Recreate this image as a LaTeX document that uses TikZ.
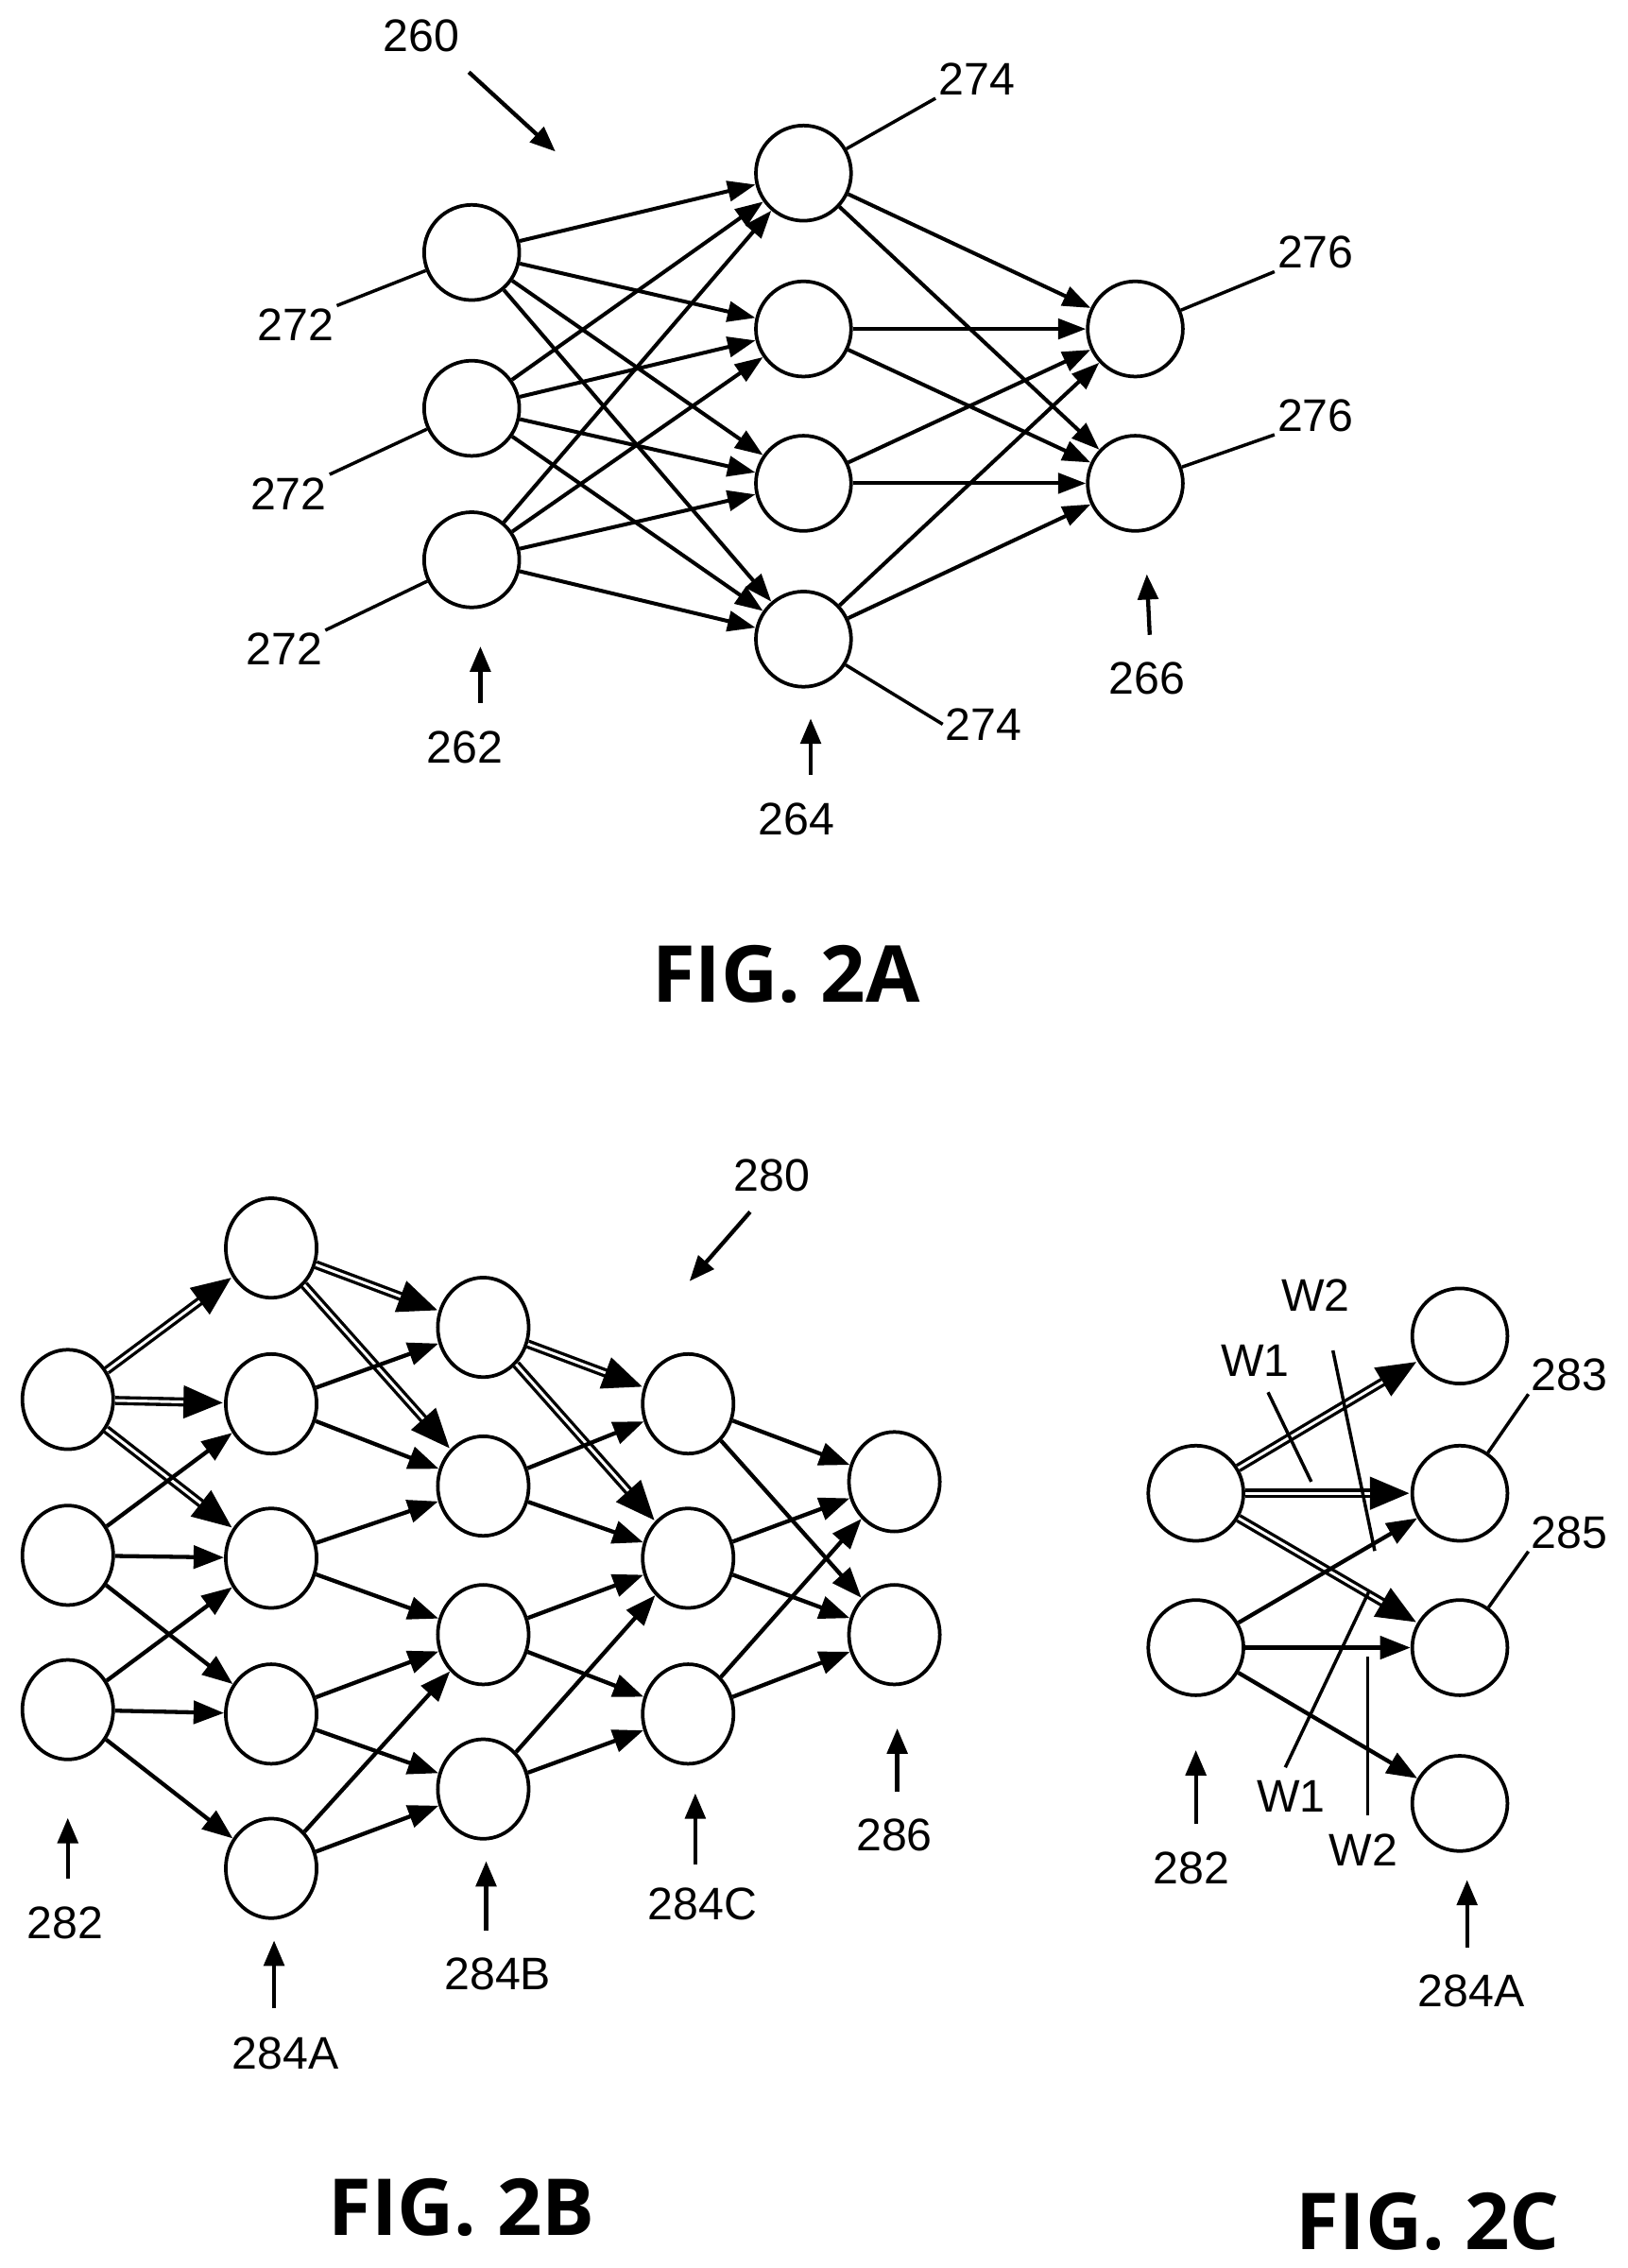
\documentclass[tikz,border=0pt]{standalone}
\usepackage{fontspec}
\setmainfont{Liberation Sans}
\newfontfamily\figfont{Open Sans}
\usetikzlibrary{arrows.meta,shapes.geometric}

\begin{document}
\begin{tikzpicture}[x=0.02cm, y=-0.02cm]
\tikzstyle{neuron} = [circle, draw=black, line width=1.4pt, minimum size=1.32cm, inner sep=0pt]
\tikzstyle{neuronB} = [ellipse, draw=black, line width=1.4pt, minimum width=1.26cm, minimum height=1.38cm, inner sep=0pt]
\tikzstyle{ref} = [font=\fontsize{18}{20}\selectfont, inner sep=1pt]
\tikzstyle{fig} = [font=\figfont\fontsize{31}{36}\selectfont\bfseries]
\tikzstyle{lead} = [line width=1.3pt]
\tikzstyle{ptr} = [line width=1.6pt, -{Triangle[length=10pt,width=8pt]}]
\tikzstyle{edgeA} = [line width=1.5pt, -{Triangle[length=11pt,width=8pt]}]
\tikzstyle{edgeB} = [line width=1.6pt, -{Triangle[length=12pt,width=9pt]}]
\tikzstyle{dbl} = [line width=3.6pt, -{Triangle[length=16pt,width=12pt]}, postaction={draw=white, line width=1.1pt, -, shorten >=16pt}]
\useasboundingbox (0,0) rectangle (1128,1572);
% FIG. 2A
\node (I1) at (327,175) [neuron] {};
\node (I2) at (327,283) [neuron] {};
\node (I3) at (327,388) [neuron] {};
\node (H1) at (557,120) [neuron] {};
\node (H2) at (557,228) [neuron] {};
\node (H3) at (557,335) [neuron] {};
\node (H4) at (557,443) [neuron] {};
\node (O1) at (787,228) [neuron] {};
\node (O2) at (787,335) [neuron] {};
\draw[edgeA] (I1) -- (H1);
\draw[edgeA] (I1) -- (H2);
\draw[edgeA] (I1) -- (H3);
\draw[edgeA] (I1) -- (H4);
\draw[edgeA] (I2) -- (H1);
\draw[edgeA] (I2) -- (H2);
\draw[edgeA] (I2) -- (H3);
\draw[edgeA] (I2) -- (H4);
\draw[edgeA] (I3) -- (H1);
\draw[edgeA] (I3) -- (H2);
\draw[edgeA] (I3) -- (H3);
\draw[edgeA] (I3) -- (H4);
\draw[edgeA] (H1) -- (O1);
\draw[edgeA] (H1) -- (O2);
\draw[edgeA] (H2) -- (O1);
\draw[edgeA] (H2) -- (O2);
\draw[edgeA] (H3) -- (O1);
\draw[edgeA] (H3) -- (O2);
\draw[edgeA] (H4) -- (O1);
\draw[edgeA] (H4) -- (O2);
\node (L272a) at (205,225) [ref] {272};
\node (L272b) at (200,342) [ref] {272};
\node (L272c) at (197,450) [ref] {272};
\node (L274a) at (677,55) [ref] {274};
\node (L274b) at (682,502) [ref] {274};
\node (L276a) at (912,175) [ref] {276};
\node (L276b) at (912,288) [ref] {276};
\node (L260) at (292,25) [ref] {260};
\node (L262) at (322,518) [ref] {262};
\node (L264) at (552,568) [ref] {264};
\node (L266) at (795,470) [ref] {266};
\draw[lead] (L272a.north east) -- (I1);
\draw[lead] (L272b.north east) -- (I2);
\draw[lead] (L272c.north east) -- (I3);
\draw[lead] (L274a.south west) -- (H1);
\draw[lead] (L274b.west) -- (H4);
\draw[lead] (L276a.south west) -- (O1);
\draw[lead] (L276b.south west) -- (O2);
\draw[ptr] (325,50) -- (385,105);
\draw[ptr] (333,487) -- (333,448);
\draw[ptr] (562,537) -- (562,498);
\draw[ptr] (797,440) -- (795,398);
\node (F2A) at (545,675) [fig] {FIG. 2A};
% FIG. 2B
\node (P1) at (47,970) [neuronB] {};
\node (P2) at (47,1078) [neuronB] {};
\node (P3) at (47,1185) [neuronB] {};
\node (A1) at (188,865) [neuronB] {};
\node (A2) at (188,973) [neuronB] {};
\node (A3) at (188,1080) [neuronB] {};
\node (A4) at (188,1188) [neuronB] {};
\node (A5) at (188,1295) [neuronB] {};
\node (B1) at (335,920) [neuronB] {};
\node (B2) at (335,1030) [neuronB] {};
\node (B3) at (335,1133) [neuronB] {};
\node (B4) at (335,1240) [neuronB] {};
\node (C1) at (477,973) [neuronB] {};
\node (C2) at (477,1080) [neuronB] {};
\node (C3) at (477,1188) [neuronB] {};
\node (Q1) at (620,1027) [neuronB] {};
\node (Q2) at (620,1133) [neuronB] {};
\draw[dbl] (P1) -- (A1);
\draw[dbl] (P1) -- (A2);
\draw[dbl] (P1) -- (A3);
\draw[edgeB] (P2) -- (A2);
\draw[edgeB] (P2) -- (A3);
\draw[edgeB] (P2) -- (A4);
\draw[edgeB] (P3) -- (A3);
\draw[edgeB] (P3) -- (A4);
\draw[edgeB] (P3) -- (A5);
\draw[dbl] (A1) -- (B1);
\draw[dbl] (A1) -- (B2);
\draw[edgeB] (A2) -- (B1);
\draw[edgeB] (A2) -- (B2);
\draw[edgeB] (A3) -- (B2);
\draw[edgeB] (A3) -- (B3);
\draw[edgeB] (A4) -- (B3);
\draw[edgeB] (A4) -- (B4);
\draw[edgeB] (A5) -- (B3);
\draw[edgeB] (A5) -- (B4);
\draw[dbl] (B1) -- (C1);
\draw[dbl] (B1) -- (C2);
\draw[edgeB] (B2) -- (C1);
\draw[edgeB] (B2) -- (C2);
\draw[edgeB] (B3) -- (C2);
\draw[edgeB] (B3) -- (C3);
\draw[edgeB] (B4) -- (C2);
\draw[edgeB] (B4) -- (C3);
\draw[edgeB] (C1) -- (Q1);
\draw[edgeB] (C1) -- (Q2);
\draw[edgeB] (C2) -- (Q1);
\draw[edgeB] (C2) -- (Q2);
\draw[edgeB] (C3) -- (Q1);
\draw[edgeB] (C3) -- (Q2);
\node (L280) at (535,815) [ref] {280};
\node (L282b) at (45,1333) [ref] {282};
\node (L284A) at (198,1423) [ref] {284A};
\node (L284B) at (345,1368) [ref] {284B};
\node (L284C) at (487,1320) [ref] {284C};
\node (L286) at (620,1272) [ref] {286};
\draw[ptr] (520,840) -- (478,888);
\draw[ptr] (47,1302) -- (47,1260);
\draw[ptr] (190,1392) -- (190,1345);
\draw[ptr] (337,1338) -- (337,1290);
\draw[ptr] (482,1292) -- (482,1243);
\draw[ptr] (622,1242) -- (622,1198);
\node (F2B) at (320,1530) [fig] {FIG. 2B};
% FIG. 2C
\node (S1) at (829,1035) [neuron] {};
\node (S2) at (829,1142) [neuron] {};
\node (T1) at (1012,926) [neuron] {};
\node (T2) at (1012,1035) [neuron] {};
\node (T3) at (1012,1142) [neuron] {};
\node (T4) at (1012,1250) [neuron] {};
\draw[dbl] (S1) -- (T1);
\draw[dbl] (S1) -- (T2);
\draw[dbl] (S1) -- (T3);
\draw[edgeB] (S2) -- (T2);
\draw[edgeB] (S2) -- (T3);
\draw[edgeB] (S2) -- (T4);
\node (LW2a) at (912,898) [ref] {W2};
\node (LW1a) at (870,943) [ref] {W1};
\node (LW1b) at (895,1245) [ref] {W1};
\node (LW2b) at (945,1282) [ref] {W2};
\node (L283) at (1088,953) [ref] {283};
\node (L285) at (1088,1062) [ref] {285};
\node (L282c) at (826,1295) [ref] {282};
\node (L284Ac) at (1020,1380) [ref] {284A};
\draw[lead] (924,936) -- (953,1075);
\draw[lead] (879,965) -- (909,1027);
\draw[lead] (891,1225) -- (949,1103);
\draw[lead] (948,1258) -- (948,1148);
\draw[lead] (L283.south west) -- (T2);
\draw[lead] (L285.south west) -- (T3);
\draw[ptr] (829,1264) -- (829,1213);
\draw[ptr] (1017,1350) -- (1017,1303);
\node (F2C) at (990,1540) [fig] {FIG. 2C};
\end{tikzpicture}
\end{document}
